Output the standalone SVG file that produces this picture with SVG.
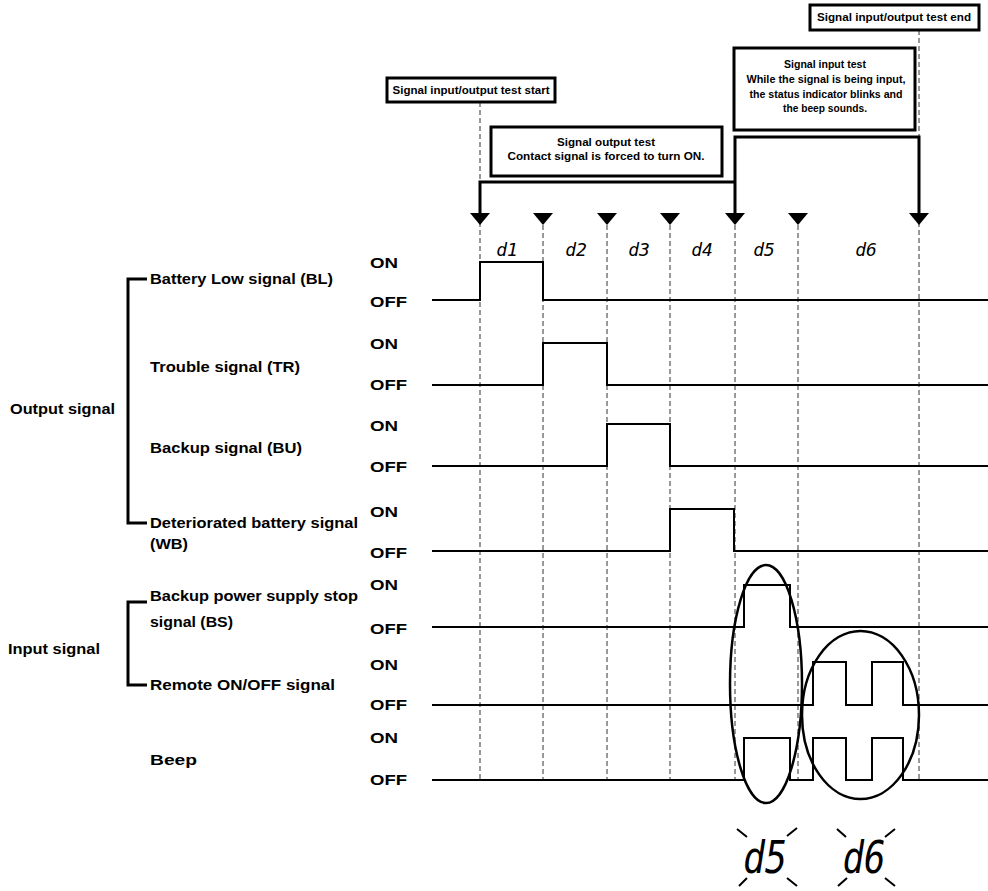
<svg xmlns="http://www.w3.org/2000/svg" width="988" height="891" viewBox="0 0 988 891">
<defs>
<style>
.lbl{font-family:"Liberation Sans",Arial,sans-serif;font-weight:bold;font-size:15px;fill:#000}
.box{fill:#fff;stroke:#000;stroke-width:3}
.bt{font-family:"Liberation Sans",Arial,sans-serif;font-weight:bold;font-size:11.5px;fill:#000;text-anchor:middle}
.dash{stroke:#555;stroke-width:1.2;stroke-dasharray:5 3;fill:none}
.sig{stroke:#000;stroke-width:2;fill:none}
.brk{stroke:#000;stroke-width:3;fill:none}
.tri{fill:#000}
.seg{font-family:"DejaVu Sans Mono",monospace;font-style:italic;font-size:18px;fill:#000;text-anchor:middle}
.big{font-family:"DejaVu Sans Mono",monospace;font-style:italic;font-size:44px;fill:#000;text-anchor:middle}
.ell{stroke:#000;stroke-width:2.5;fill:none}
.ray{stroke:#000;stroke-width:2;fill:none}
</style>
</defs>
<rect width="988" height="891" fill="#fff"/>

<g id="guides">
<line class="dash" x1="480" y1="102" x2="480" y2="780"/>
<line class="dash" x1="543" y1="225" x2="543" y2="780"/>
<line class="dash" x1="607" y1="225" x2="607" y2="780"/>
<line class="dash" x1="670" y1="225" x2="670" y2="780"/>
<line class="dash" x1="735" y1="225" x2="735" y2="780"/>
<line class="dash" x1="798" y1="225" x2="798" y2="780"/>
<line class="dash" x1="919" y1="30" x2="919" y2="780"/>
</g>

<g id="connectors">
<path class="brk" d="M480,218 V182 H735"/>
<path class="brk" d="M735,218 V137 H919 V218"/>
<polygon class="tri" points="470,213 490,213 480,225"/>
<polygon class="tri" points="533,213 553,213 543,225"/>
<polygon class="tri" points="597,213 617,213 607,225"/>
<polygon class="tri" points="660,213 680,213 670,225"/>
<polygon class="tri" points="725,213 745,213 735,225"/>
<polygon class="tri" points="788,213 808,213 798,225"/>
<polygon class="tri" points="909,213 929,213 919,225"/>
<path class="brk" d="M147,279 H128 V523 H147"/>
<path class="brk" d="M147,602 H128 V685 H147"/>
</g>

<g id="box-start">
<rect class="box" x="387" y="78" width="168" height="24"/>
<text class="bt" x="471" y="94" textLength="157" lengthAdjust="spacingAndGlyphs">Signal input/output test start</text>
</g>
<g id="box-output-test">
<rect class="box" x="491" y="127" width="231" height="49"/>
<text class="bt" x="606" y="146" textLength="98" lengthAdjust="spacingAndGlyphs">Signal output test</text>
<text class="bt" x="606" y="160" textLength="197" lengthAdjust="spacingAndGlyphs">Contact signal is forced to turn ON.</text>
</g>
<g id="box-input-test">
<rect class="box" x="734" y="48" width="181" height="82"/>
<text class="bt" x="825" y="68" textLength="82" lengthAdjust="spacingAndGlyphs">Signal input test</text>
<text class="bt" x="826" y="83" textLength="159" lengthAdjust="spacingAndGlyphs">While the signal is being input,</text>
<text class="bt" x="826" y="98" textLength="153" lengthAdjust="spacingAndGlyphs">the status indicator blinks and</text>
<text class="bt" x="825" y="112" textLength="84" lengthAdjust="spacingAndGlyphs">the beep sounds.</text>
</g>
<g id="box-end">
<rect class="box" x="810" y="5" width="169" height="25"/>
<text class="bt" x="894" y="21" textLength="154" lengthAdjust="spacingAndGlyphs">Signal input/output test end</text>
</g>

<g id="step-labels">
<text class="seg" x="507" y="256">d1</text>
<text class="seg" x="576" y="256">d2</text>
<text class="seg" x="639" y="256">d3</text>
<text class="seg" x="702" y="256">d4</text>
<text class="seg" x="764" y="256">d5</text>
<text class="seg" x="866" y="256">d6</text>
</g>

<g id="group-labels">
<text class="lbl" x="10" y="414" textLength="105" lengthAdjust="spacingAndGlyphs">Output signal</text>
<text class="lbl" x="8" y="654" textLength="92" lengthAdjust="spacingAndGlyphs">Input signal</text>
</g>

<g id="sig-BL">
<text class="lbl" x="150" y="284" textLength="183" lengthAdjust="spacingAndGlyphs">Battery Low signal (BL)</text>
<text class="lbl" x="370" y="268" textLength="28" lengthAdjust="spacingAndGlyphs">ON</text>
<text class="lbl" x="370" y="307" textLength="37" lengthAdjust="spacingAndGlyphs">OFF</text>
<path class="sig" d="M432,300 H480 V262 H543 V300 H988"/>
</g>
<g id="sig-TR">
<text class="lbl" x="150" y="372" textLength="150" lengthAdjust="spacingAndGlyphs">Trouble signal (TR)</text>
<text class="lbl" x="370" y="349" textLength="28" lengthAdjust="spacingAndGlyphs">ON</text>
<text class="lbl" x="370" y="390" textLength="37" lengthAdjust="spacingAndGlyphs">OFF</text>
<path class="sig" d="M432,385 H543 V343 H607 V385 H988"/>
</g>
<g id="sig-BU">
<text class="lbl" x="150" y="453" textLength="152" lengthAdjust="spacingAndGlyphs">Backup signal (BU)</text>
<text class="lbl" x="370" y="431" textLength="28" lengthAdjust="spacingAndGlyphs">ON</text>
<text class="lbl" x="370" y="472" textLength="37" lengthAdjust="spacingAndGlyphs">OFF</text>
<path class="sig" d="M432,466 H607 V424 H670 V466 H988"/>
</g>
<g id="sig-WB">
<text class="lbl" x="150" y="528" textLength="208" lengthAdjust="spacingAndGlyphs">Deteriorated battery signal</text>
<text class="lbl" x="150" y="549" textLength="38" lengthAdjust="spacingAndGlyphs">(WB)</text>
<text class="lbl" x="370" y="517" textLength="28" lengthAdjust="spacingAndGlyphs">ON</text>
<text class="lbl" x="370" y="558" textLength="37" lengthAdjust="spacingAndGlyphs">OFF</text>
<path class="sig" d="M432,551 H670 V509 H734 V551 H988"/>
</g>
<g id="sig-BS">
<text class="lbl" x="150" y="601" textLength="208" lengthAdjust="spacingAndGlyphs">Backup power supply stop</text>
<text class="lbl" x="150" y="627" textLength="83" lengthAdjust="spacingAndGlyphs">signal (BS)</text>
<text class="lbl" x="370" y="590" textLength="28" lengthAdjust="spacingAndGlyphs">ON</text>
<text class="lbl" x="370" y="634" textLength="37" lengthAdjust="spacingAndGlyphs">OFF</text>
<path class="sig" d="M432,627 H744 V585 H790 V627 H988"/>
</g>
<g id="sig-RM">
<text class="lbl" x="150" y="690" textLength="185" lengthAdjust="spacingAndGlyphs">Remote ON/OFF signal</text>
<text class="lbl" x="370" y="670" textLength="28" lengthAdjust="spacingAndGlyphs">ON</text>
<text class="lbl" x="370" y="710" textLength="37" lengthAdjust="spacingAndGlyphs">OFF</text>
<path class="sig" d="M432,705 H813 V662 H846 V705 H872 V662 H903 V705 H988"/>
</g>
<g id="sig-BEEP">
<text class="lbl" x="150" y="765" textLength="47" lengthAdjust="spacingAndGlyphs">Beep</text>
<text class="lbl" x="370" y="743" textLength="28" lengthAdjust="spacingAndGlyphs">ON</text>
<text class="lbl" x="370" y="785" textLength="37" lengthAdjust="spacingAndGlyphs">OFF</text>
<path class="sig" d="M432,780 H744 V738 H790 V780 H813 V738 H846 V780 H872 V738 H903 V780 H988"/>
</g>

<g id="highlight-d5">
<ellipse class="ell" cx="766" cy="684" rx="36" ry="119"/>
</g>
<g id="highlight-d6">
<ellipse class="ell" cx="860.5" cy="715" rx="58.5" ry="84"/>
</g>

<g id="display-d5">
<text class="big" x="765" y="873" textLength="44" lengthAdjust="spacingAndGlyphs">d5</text>
<path class="ray" d="M737,829 L747,837 M787,836 L797,828 M739,886 L747,878 M787,878 L797,886"/>
</g>
<g id="display-d6">
<text class="big" x="864" y="873" textLength="43" lengthAdjust="spacingAndGlyphs">d6</text>
<path class="ray" d="M837,829 L846,837 M885,837 L895,829 M838,886 L847,878 M885,878 L895,886"/>
</g>
</svg>
